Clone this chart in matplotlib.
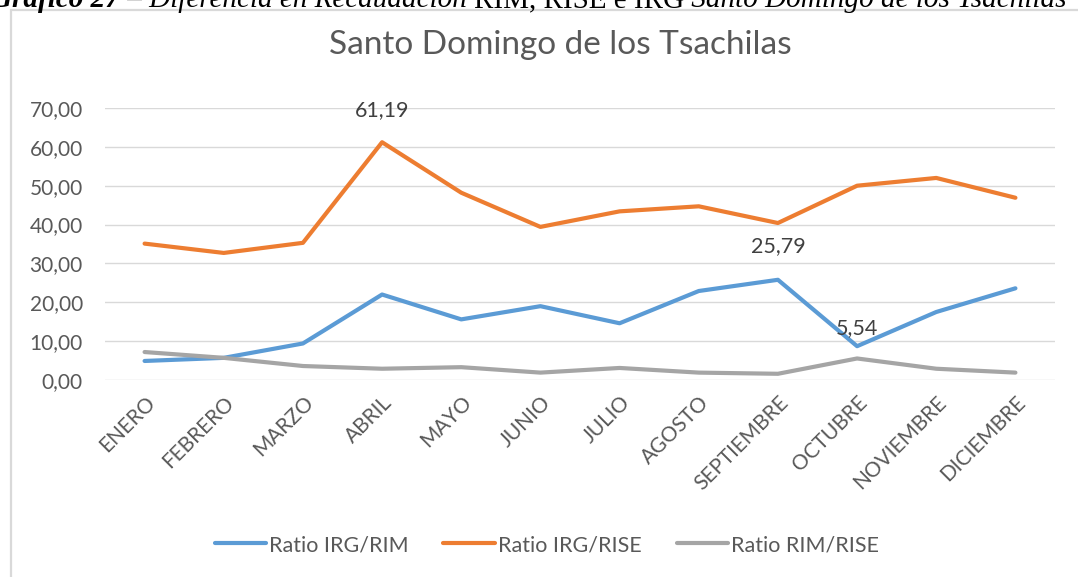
import matplotlib
matplotlib.use("Agg")
import matplotlib.pyplot as plt
from matplotlib.patches import Rectangle

# data
meses = ["ENERO", "FEBRERO", "MARZO", "ABRIL", "MAYO", "JUNIO", "JULIO",
         "AGOSTO", "SEPTIEMBRE", "OCTUBRE", "NOVIEMBRE", "DICIEMBRE"]
irg_rim = [4.9, 5.7, 9.4, 22.0, 15.6, 19.0, 14.6, 22.9, 25.79, 8.7, 17.5, 23.6]
irg_rise = [35.1, 32.7, 35.3, 61.19, 48.2, 39.4, 43.4, 44.7, 40.4, 50.0, 52.0, 46.9]
rim_rise = [7.2, 5.7, 3.6, 2.9, 3.3, 1.9, 3.1, 1.9, 1.6, 5.54, 2.9, 1.9]
yticks = [0, 10, 20, 30, 40, 50, 60, 70]

plt.rcParams['font.family'] = ['Lato', 'DejaVu Sans']
gris = "#595959"

fig = plt.figure(figsize=(10.78, 5.77), dpi=100)
W, H = 1078, 577

# chart frame (only left and top edges are inside the picture)
fig.patches.append(Rectangle((11 / W, -0.05), 1.0, 1.05 - 10 / H, transform=fig.transFigure,
                             fill=False, edgecolor="#d9d9d9", linewidth=1.6))

# caption of the document, cut at the top edge
piezas = [("Gráfico 27", "italic", "bold"),
          (" – Diferencia en Recaudación ", "italic", "normal"),
          ("RIM, RISE e IRG", "normal", "normal"),
          (" Santo Domingo de los Tsachilas", "italic", "normal")]
fig.canvas.draw()
r = fig.canvas.get_renderer()
xpos = -9
for txt, st, wt in piezas:
    t = fig.text(xpos / W, 1 - 7 / H, txt, family="Liberation Serif", style=st, weight=wt,
                 fontsize=21, ha="left", va="baseline", color="black")
    xpos = t.get_window_extent(r).x1

ax = fig.add_axes([105 / W, 1 - 380 / H, 950 / W, 272 / H])
x = range(len(meses))
ax.plot(x, irg_rim, color="#5B9BD5", lw=3, label="Ratio IRG/RIM", solid_capstyle="round")
ax.plot(x, irg_rise, color="#ED7D31", lw=3, label="Ratio IRG/RISE", solid_capstyle="round")
ax.plot(x, rim_rise, color="#A5A5A5", lw=3, label="Ratio RIM/RISE", solid_capstyle="round")

ax.set_xlim(-0.5, len(meses) - 0.5)
ax.set_ylim(0, 70)
ax.set_yticks(yticks)
ax.set_yticklabels(["%d,00" % v for v in yticks])
ax.set_xticks(list(x))
ax.set_xticklabels(meses, rotation=45, ha="right", rotation_mode="anchor")
ax.tick_params(axis="both", length=0, labelsize=15, colors=gris)
ax.tick_params(axis="y", pad=16)
ax.tick_params(axis="x", pad=9)
ax.grid(axis="y", color="#d9d9d9", lw=1)
ax.set_axisbelow(True)
for s in ax.spines.values():
    s.set_visible(False)

# data labels
ax.annotate("61,19", (3, irg_rise[3]), xytext=(0, 23), textcoords="offset points",
            ha="center", va="center", fontsize=15.5, color="#404040")
ax.annotate("25,79", (8, irg_rim[8]), xytext=(0, 24), textcoords="offset points",
            ha="center", va="center", fontsize=15.5, color="#404040")
ax.annotate("5,54", (9, rim_rise[9]), xytext=(0, 22), textcoords="offset points",
            ha="center", va="center", fontsize=15.5, color="#404040")

fig.text(560 / W, 1 - 45 / H, "Santo Domingo de los Tsachilas", fontsize=24,
         color=gris, ha="center", va="center")

fig.legend(loc="center", bbox_to_anchor=(547 / W, 1 - 545 / H), ncol=3, frameon=False,
           fontsize=15.5, handlelength=2.4, handletextpad=0.15, columnspacing=1.6,
           labelcolor=gris)

fig.savefig("out.png", dpi=100)
